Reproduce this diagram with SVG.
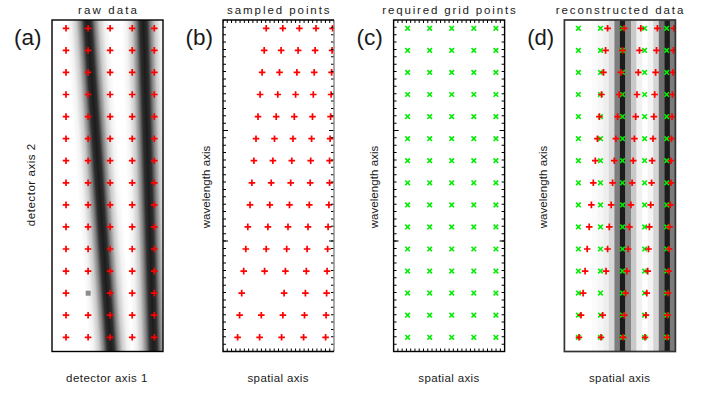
<svg xmlns="http://www.w3.org/2000/svg" xmlns:xlink="http://www.w3.org/1999/xlink" width="709" height="393" viewBox="0 0 709 393">
<style>
.t{font-family:"Liberation Sans",Arial,sans-serif;font-size:11.5px;fill:#1a1a1a;text-anchor:middle}
.lbl{font-family:"Liberation Sans",Arial,sans-serif;font-size:22px;fill:#1a1a1a;text-anchor:middle}
.box{fill:none;stroke:#000;stroke-width:1.4}
.tk{stroke:#000;stroke-width:3;fill:none}
</style>
<defs>
<clipPath id="clip"><rect x="0" y="0" width="111" height="331.5"/></clipPath>
<linearGradient id="prof" gradientUnits="userSpaceOnUse" x1="-22" y1="0" x2="22" y2="0">
<stop offset="0" stop-color="#ffffff"/>
<stop offset="0.12" stop-color="#f2f2f2"/>
<stop offset="0.24" stop-color="#cacaca"/>
<stop offset="0.34" stop-color="#808080"/>
<stop offset="0.42" stop-color="#2e2e2e"/>
<stop offset="0.5" stop-color="#1c1c1c"/>
<stop offset="0.58" stop-color="#2e2e2e"/>
<stop offset="0.66" stop-color="#808080"/>
<stop offset="0.76" stop-color="#cacaca"/>
<stop offset="0.88" stop-color="#f2f2f2"/>
<stop offset="1" stop-color="#ffffff"/>
</linearGradient>
<path id="p" d="M-3.3 0H3.3M0-3.3V3.3" stroke="#ff0000" stroke-width="1.7" fill="none"/>
<path id="x" d="M-2.3-2.3L2.3 2.3M-2.3 2.3L2.3-2.3" stroke="#00ee00" stroke-width="1.6" fill="none"/>
<g id="rowP"><use href="#p" x="14"/><use href="#p" x="36.1"/><use href="#p" x="58.1"/><use href="#p" x="80.2"/><use href="#p" x="102.3"/></g>
<g id="rowX"><use href="#x" x="14"/><use href="#x" x="36.1"/><use href="#x" x="58.1"/><use href="#x" x="80.2"/><use href="#x" x="102.3"/></g>
<g id="gridX">
<use href="#rowX" y="8.3"/><use href="#rowX" y="30.4"/><use href="#rowX" y="52.4"/><use href="#rowX" y="74.5"/><use href="#rowX" y="96.6"/>
<use href="#rowX" y="118.7"/><use href="#rowX" y="140.7"/><use href="#rowX" y="162.8"/><use href="#rowX" y="184.9"/><use href="#rowX" y="206.9"/>
<use href="#rowX" y="229"/><use href="#rowX" y="251.1"/><use href="#rowX" y="273.1"/><use href="#rowX" y="295.2"/><use href="#rowX" y="317.3"/>
</g>
<g id="sampled">
<use href="#p" x="43.2" y="8.3"/><use href="#p" x="59.8" y="8.3"/><use href="#p" x="76.4" y="8.3"/><use href="#p" x="93" y="8.3"/><use href="#p" x="109.6" y="8.3"/>
<use href="#p" x="41.2" y="30.4"/><use href="#p" x="58.1" y="30.4"/><use href="#p" x="75.1" y="30.4"/><use href="#p" x="92.1" y="30.4"/><use href="#p" x="109.1" y="30.4"/>
<use href="#p" x="39.1" y="52.4"/><use href="#p" x="56.5" y="52.4"/><use href="#p" x="73.9" y="52.4"/><use href="#p" x="91.2" y="52.4"/><use href="#p" x="108.6" y="52.4"/>
<use href="#p" x="37.1" y="74.5"/><use href="#p" x="54.8" y="74.5"/><use href="#p" x="72.6" y="74.5"/><use href="#p" x="90.3" y="74.5"/><use href="#p" x="108.1" y="74.5"/>
<use href="#p" x="35" y="96.6"/><use href="#p" x="53.2" y="96.6"/><use href="#p" x="71.3" y="96.6"/><use href="#p" x="89.5" y="96.6"/><use href="#p" x="107.6" y="96.6"/>
<use href="#p" x="33" y="118.7"/><use href="#p" x="51.5" y="118.7"/><use href="#p" x="70" y="118.7"/><use href="#p" x="88.6" y="118.7"/><use href="#p" x="107.1" y="118.7"/>
<use href="#p" x="30.9" y="140.7"/><use href="#p" x="49.9" y="140.7"/><use href="#p" x="68.8" y="140.7"/><use href="#p" x="87.7" y="140.7"/><use href="#p" x="106.6" y="140.7"/>
<use href="#p" x="28.9" y="162.8"/><use href="#p" x="48.2" y="162.8"/><use href="#p" x="67.7" y="162.8"/><use href="#p" x="87.2" y="162.8"/><use href="#p" x="106.6" y="162.8"/>
<use href="#p" x="27" y="184.9"/><use href="#p" x="46.8" y="184.9"/><use href="#p" x="66.5" y="184.9"/><use href="#p" x="86.3" y="184.9"/><use href="#p" x="105.9" y="184.9"/>
<use href="#p" x="24.8" y="206.9"/><use href="#p" x="44.9" y="206.9"/><use href="#p" x="65" y="206.9"/><use href="#p" x="85" y="206.9"/><use href="#p" x="105.1" y="206.9"/>
<use href="#p" x="22.8" y="229"/><use href="#p" x="43.2" y="229"/><use href="#p" x="63.7" y="229"/><use href="#p" x="84.1" y="229"/><use href="#p" x="104.6" y="229"/>
<use href="#p" x="20.7" y="251.1"/><use href="#p" x="41.6" y="251.1"/><use href="#p" x="62.4" y="251.1"/><use href="#p" x="83.3" y="251.1"/><use href="#p" x="104.1" y="251.1"/>
<use href="#p" x="18.7" y="273.1"/><use href="#p" x="61.1" y="273.1"/><use href="#p" x="82.4" y="273.1"/><use href="#p" x="103.6" y="273.1"/>
<use href="#p" x="16.6" y="295.2"/><use href="#p" x="38.3" y="295.2"/><use href="#p" x="59.9" y="295.2"/><use href="#p" x="81.5" y="295.2"/><use href="#p" x="103.1" y="295.2"/>
<use href="#p" x="14.6" y="317.3"/><use href="#p" x="36.6" y="317.3"/><use href="#p" x="58.6" y="317.3"/><use href="#p" x="80.6" y="317.3"/><use href="#p" x="102.6" y="317.3"/>
</g>
<g id="ticks">
<line class="tk" x1="0" y1="1.5" x2="111" y2="1.5" stroke-width="3" stroke-dasharray="1 3.269" stroke-dashoffset="0.5"/>
<line class="tk" x1="0" y1="330" x2="111" y2="330" stroke-width="3" stroke-dasharray="1 3.269" stroke-dashoffset="0.5"/>
<line class="tk" x1="1.5" y1="0" x2="1.5" y2="331.5" stroke-width="3" stroke-dasharray="1 6.367" stroke-dashoffset="0.5"/>
<line class="tk" x1="109.5" y1="0" x2="109.5" y2="331.5" stroke-width="3" stroke-dasharray="1 6.367" stroke-dashoffset="0.5"/>
<path d="M0 110.5H5M0 221H5M111 110.5H106M111 221H106" stroke="#000" stroke-width="1" fill="none"/>
</g>
</defs>

<rect width="709" height="393" fill="#ffffff"/>

<g id="panel-a" transform="translate(52,20)">
<g clip-path="url(#clip)">
<rect x="0" y="0" width="111" height="331.5" fill="#ffffff"/>
<g transform="translate(35.6,0) skewX(4.02)"><rect x="-22" y="0" width="44" height="332" fill="url(#prof)"/></g>
<g transform="translate(91.3,0) skewX(1.78)"><rect x="-22" y="0" width="44" height="332" fill="url(#prof)"/></g>
<rect x="33.7" y="270.7" width="5" height="5" fill="#8c8c8c"/>
<use href="#rowP" y="8.3"/><use href="#rowP" y="30.4"/><use href="#rowP" y="52.4"/><use href="#rowP" y="74.5"/><use href="#rowP" y="96.6"/>
<use href="#rowP" y="118.7"/><use href="#rowP" y="140.7"/><use href="#rowP" y="162.8"/><use href="#rowP" y="184.9"/><use href="#rowP" y="206.9"/>
<use href="#rowP" y="229"/><use href="#rowP" y="251.1"/>
<use href="#p" x="14" y="273.1"/><use href="#p" x="58.1" y="273.1"/><use href="#p" x="80.2" y="273.1"/><use href="#p" x="102.3" y="273.1"/>
<use href="#rowP" y="295.2"/><use href="#rowP" y="317.3"/>
</g>
<rect class="box" x="0" y="0" width="111" height="331.5"/>
</g>

<g id="panel-b" transform="translate(223,20)">
<g clip-path="url(#clip)">
<rect x="0" y="0" width="111" height="331.5" fill="#ffffff"/>
<use href="#sampled"/>
</g>
<use href="#ticks"/>
<path d="M111 0V331.5" stroke="#888" stroke-width="1.4"/>
<path d="M111 0H0V331.5H111" class="box"/>
</g>

<g id="panel-c" transform="translate(393.6,20)">
<g clip-path="url(#clip)">
<rect x="0" y="0" width="111" height="331.5" fill="#ffffff"/>
<use href="#gridX"/>
</g>
<use href="#ticks"/>
<rect class="box" x="0" y="0" width="111" height="331.5"/>
</g>

<g id="panel-d" transform="translate(564.4,20)">
<g clip-path="url(#clip)">
<rect x="0" y="0" width="111" height="331.5" fill="#ffffff"/>
<rect x="27.7" y="0" width="5.7" height="331.5" fill="#fbfbfb"/>
<rect x="33.3" y="0" width="5.7" height="331.5" fill="#f6f6f6"/>
<rect x="38.85" y="0" width="5.7" height="331.5" fill="#eeeeee"/>
<rect x="44.4" y="0" width="5.7" height="331.5" fill="#d8d8d8"/>
<rect x="49.95" y="0" width="5.7" height="331.5" fill="#7e7e7e"/>
<rect x="55.5" y="0" width="5.7" height="331.5" fill="#1c1c1c"/>
<rect x="61.05" y="0" width="5.7" height="331.5" fill="#868686"/>
<rect x="66.6" y="0" width="5.7" height="331.5" fill="#c9c9c9"/>
<rect x="72.15" y="0" width="5.7" height="331.5" fill="#f1f1f1"/>
<rect x="83.25" y="0" width="5.7" height="331.5" fill="#f3f3f3"/>
<rect x="88.8" y="0" width="5.7" height="331.5" fill="#d5d5d5"/>
<rect x="94.35" y="0" width="5.7" height="331.5" fill="#6f6f6f"/>
<rect x="99.9" y="0" width="5.7" height="331.5" fill="#1c1c1c"/>
<rect x="105.45" y="0" width="5.7" height="331.5" fill="#7b7b7b"/>
<use href="#gridX"/>
<use href="#sampled"/>
</g>
<rect x="0" y="0" width="111" height="331.5" fill="none" stroke="#333" stroke-width="1.7"/>
</g>

<g id="labels">
<text class="lbl" x="27.8" y="44.5" textLength="27.5" lengthAdjust="spacingAndGlyphs">(a)</text>
<text class="lbl" x="199.3" y="44.5" textLength="27.5" lengthAdjust="spacingAndGlyphs">(b)</text>
<text class="lbl" x="369.7" y="44.5" textLength="26.5" lengthAdjust="spacingAndGlyphs">(c)</text>
<text class="lbl" x="540.7" y="44.5" textLength="27" lengthAdjust="spacingAndGlyphs">(d)</text>
<text class="t" x="107.5" y="14.3" textLength="59" lengthAdjust="spacing">raw data</text>
<text class="t" x="278.3" y="14.3" textLength="102.6" lengthAdjust="spacing">sampled points</text>
<text class="t" x="449" y="14.3" textLength="133.4" lengthAdjust="spacing">required grid points</text>
<text class="t" x="619.5" y="14.3" textLength="127.6" lengthAdjust="spacing">reconstructed data</text>
<text class="t" x="106.7" y="381.7" textLength="81.3" lengthAdjust="spacing">detector axis 1</text>
<text class="t" x="278" y="381.7" textLength="61" lengthAdjust="spacing">spatial axis</text>
<text class="t" x="448.8" y="381.7" textLength="61" lengthAdjust="spacing">spatial axis</text>
<text class="t" x="619.5" y="381.7" textLength="61" lengthAdjust="spacing">spatial axis</text>
<text class="t" transform="translate(35.3,185) rotate(-90)" x="0" y="0" textLength="82.5" lengthAdjust="spacing">detector axis 2</text>
<text class="t" transform="translate(210,187) rotate(-90)" x="0" y="0" textLength="82.6" lengthAdjust="spacing">wavelength axis</text>
<text class="t" transform="translate(378.3,187) rotate(-90)" x="0" y="0" textLength="82.6" lengthAdjust="spacing">wavelength axis</text>
<text class="t" transform="translate(546.7,187) rotate(-90)" x="0" y="0" textLength="82.6" lengthAdjust="spacing">wavelength axis</text>
</g>
</svg>
